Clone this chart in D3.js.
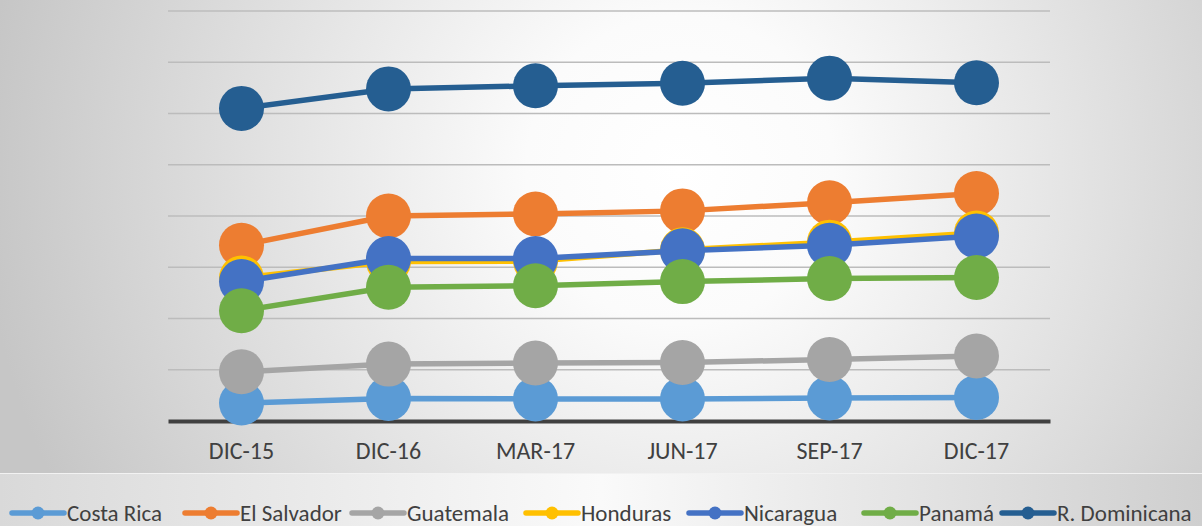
<!DOCTYPE html>
<html><head><meta charset="utf-8">
<script src="https://cdn.jsdelivr.net/npm/d3@7"></script>
<style>html,body{margin:0;padding:0;background:#fff;}svg{display:block;}</style>
</head><body>
<svg id="chart" width="1202" height="526"></svg>
<script>
const categories = ["DIC-15","DIC-16","MAR-17","JUN-17","SEP-17","DIC-17"];
const seriesNames = ["Costa Rica","El Salvador","Guatemala","Honduras","Nicaragua","Panamá","R. Dominicana"];
const seriesColors = ["#5B9BD5","#ED7D31","#A5A5A5","#FFC000","#4472C4","#70AD47","#255E91"];
const costaRica   = [3.5, 4.4, 4.3, 4.3, 4.5, 4.6];
const elSalvador  = [34.3, 40.0, 40.4, 41.0, 42.6, 44.4];
const guatemala   = [9.6, 11.1, 11.3, 11.4, 12.0, 12.7];
const honduras    = [27.9, 31.1, 31.2, 33.4, 34.9, 36.7];
const nicaragua   = [27.2, 31.7, 31.7, 33.2, 34.3, 36.1];
const panama      = [21.5, 26.1, 26.4, 27.2, 27.8, 28.0];
const rDominicana = [61.0, 64.8, 65.4, 65.9, 66.9, 66.0];
const yTicks = [0,10,20,30,40,50,60,70,80];

const seriesValues = [costaRica, elSalvador, guatemala, honduras, nicaragua, panama, rDominicana];

const svg = d3.select("#chart");
const W = 1202, H = 526;
const defs = svg.append("defs");
const rg = defs.append("radialGradient").attr("id","bg").attr("gradientUnits","userSpaceOnUse")
  .attr("cx",680).attr("cy",170).attr("r",700);
rg.append("stop").attr("offset","0%").attr("stop-color","#ffffff");
rg.append("stop").attr("offset","22%").attr("stop-color","#fbfbfb");
rg.append("stop").attr("offset","100%").attr("stop-color","#c6c6c6");
const lg = defs.append("linearGradient").attr("id","lg").attr("x1","0").attr("x2","1").attr("y1","0").attr("y2","0");
lg.append("stop").attr("offset","0%").attr("stop-color","#d9d9d9");
lg.append("stop").attr("offset","50%").attr("stop-color","#fafafa");
lg.append("stop").attr("offset","100%").attr("stop-color","#cfcfcf");

svg.append("rect").attr("width",W).attr("height",H).attr("fill","url(#bg)");
svg.append("rect").attr("x",0).attr("y",473).attr("width",W).attr("height",H-473).attr("fill","url(#lg)");
svg.append("line").attr("x1",0).attr("x2",W).attr("y1",473.5).attr("y2",473.5).attr("stroke","#f2f2f2").attr("stroke-width",1);

const x = d3.scaleBand().domain(categories).range([168,1050]);
const y = d3.scaleLinear().domain([0,80]).range([421,11]);

const font = "Carlito, Calibri, Lato, sans-serif";

// gridlines
svg.append("g").selectAll("line").data(yTicks.filter(d=>d>0)).join("line")
  .attr("x1",168).attr("x2",1050)
  .attr("y1",d=>y(d)).attr("y2",d=>y(d))
  .attr("stroke","#bcbcbc").attr("stroke-width",1.5);

// x axis
const xAxis = svg.append("g").attr("transform",`translate(0,${y(0)})`)
  .call(d3.axisBottom(x).tickSize(0).tickPadding(21));
xAxis.select(".domain").attr("stroke","#404040").attr("stroke-width",4);
xAxis.selectAll("text").attr("font-family",font).attr("font-size",24).attr("fill","#404040");

const line = d3.line().x((d,i)=>x(categories[i])+x.bandwidth()/2).y(d=>y(d));

seriesValues.forEach((vals,si)=>{
  const g = svg.append("g");
  g.append("path").datum(vals).attr("d",line).attr("fill","none")
    .attr("stroke",seriesColors[si]).attr("stroke-width",5.5).attr("stroke-linejoin","round");
  g.selectAll("circle").data(vals).join("circle")
    .attr("cx",(d,i)=>x(categories[i])+x.bandwidth()/2).attr("cy",d=>y(d)).attr("r",22.5)
    .attr("fill",seriesColors[si]);
});

// legend
const legendX = [10,183,350,524,687,862,1000];
const lgG = svg.append("g");
seriesNames.forEach((n,i)=>{
  const gx = legendX[i], gy = 513;
  lgG.append("line").attr("x1",gx+2).attr("x2",gx+54).attr("y1",gy).attr("y2",gy)
    .attr("stroke",seriesColors[i]).attr("stroke-width",5.5).attr("stroke-linecap","round");
  lgG.append("circle").attr("cx",gx+28).attr("cy",gy).attr("r",6.5).attr("fill",seriesColors[i]);
  lgG.append("text").attr("x",gx+57).attr("y",gy).attr("dy","0.35em")
    .attr("font-family",font).attr("font-size",23).attr("fill","#404040").text(n);
});
</script>
</body></html>
